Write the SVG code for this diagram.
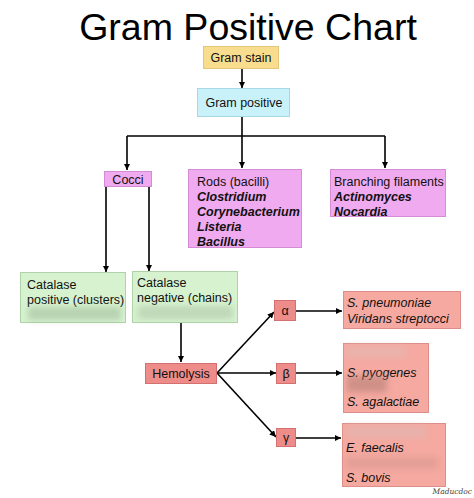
<svg xmlns="http://www.w3.org/2000/svg" width="474" height="498" viewBox="0 0 474 498">
<defs>
<style>
text{font-family:"Liberation Sans",Arial,sans-serif;font-size:12.5px;fill:#111}
.title{font-size:37.5px;fill:#000}
.bi{font-style:italic;font-weight:bold}
.it{font-style:italic}
.c{text-anchor:middle}
.ln{stroke:#000;stroke-width:1.6;fill:none}
.yel{fill:#F9DD8F;stroke:#E3C679}
.cyan{fill:#C9F1FA;stroke:#A6D8E6}
.vio{fill:#F0AAF0;stroke:#D48CD4}
.grn{fill:#D6F2CF;stroke:#AFD2A8}
.red{fill:#EE8C8A;stroke:#D57070}
.sal{fill:#F5A9A0;stroke:#DC8F88}
.wm{font-family:"DejaVu Serif",serif;font-style:italic;font-size:7.5px;fill:#444;text-anchor:end}
</style>
<marker id="ah" viewBox="0 0 10 10" refX="10" refY="5" markerWidth="4" markerHeight="4" orient="auto" markerUnits="strokeWidth">
<path d="M0,0 L10,5 L0,10 z" fill="#000"/>
</marker>
<filter id="blur" x="-20%" y="-50%" width="140%" height="200%"><feGaussianBlur stdDeviation="3"/></filter>
</defs>
<rect width="474" height="498" fill="#fff"/>
<text class="title c" x="248" y="40">Gram Positive Chart</text>

<g id="connectors">
<line class="ln" x1="242" y1="69" x2="242" y2="88" marker-end="url(#ah)"/>
<line class="ln" x1="242" y1="117" x2="242" y2="136"/>
<line class="ln" x1="127" y1="136" x2="385" y2="136"/>
<line class="ln" x1="127" y1="136" x2="127" y2="170" marker-end="url(#ah)"/>
<line class="ln" x1="242" y1="136" x2="242" y2="168" marker-end="url(#ah)"/>
<line class="ln" x1="385" y1="136" x2="385" y2="168" marker-end="url(#ah)"/>
<line class="ln" x1="106" y1="187" x2="106" y2="272" marker-end="url(#ah)"/>
<line class="ln" x1="149" y1="187" x2="149" y2="271" marker-end="url(#ah)"/>
<line class="ln" x1="181" y1="323" x2="181" y2="362" marker-end="url(#ah)"/>
<line class="ln" x1="217" y1="373" x2="274" y2="312" marker-end="url(#ah)"/>
<line class="ln" x1="217" y1="373" x2="276" y2="373" marker-end="url(#ah)"/>
<line class="ln" x1="217" y1="373" x2="276" y2="437" marker-end="url(#ah)"/>
<line class="ln" x1="296" y1="311" x2="342" y2="311" marker-end="url(#ah)"/>
<line class="ln" x1="296" y1="373" x2="342" y2="373" marker-end="url(#ah)"/>
<line class="ln" x1="296" y1="438" x2="341" y2="438" marker-end="url(#ah)"/>
</g>

<g id="gram-stain">
<rect class="yel" x="203.5" y="46.5" width="75" height="22"/>
<text class="c" x="241" y="62">Gram stain</text>
</g>
<g id="gram-positive">
<rect class="cyan" x="197.5" y="88.5" width="92" height="28"/>
<text class="c" x="244" y="107">Gram positive</text>
</g>
<g id="cocci">
<rect class="vio" x="104.5" y="171.5" width="47" height="15"/>
<text class="c" x="128" y="184">Cocci</text>
</g>
<g id="rods">
<rect class="vio" x="188.5" y="169.5" width="113" height="78"/>
<text x="197" y="186">Rods (bacilli)</text>
<text class="bi" x="197" y="201">Clostridium</text>
<text class="bi" x="197" y="216">Corynebacterium</text>
<text class="bi" x="197" y="231">Listeria</text>
<text class="bi" x="197" y="246">Bacillus</text>
</g>
<g id="branching">
<rect class="vio" x="330.5" y="169.5" width="115" height="47"/>
<text x="334" y="186">Branching filaments</text>
<text class="bi" x="334" y="201">Actinomyces</text>
<text class="bi" x="334" y="216">Nocardia</text>
</g>
<g id="catalase-positive">
<rect class="grn" x="20.5" y="272.5" width="105" height="50"/>
<text x="27" y="289">Catalase</text>
<text x="27" y="304">positive (clusters)</text>
<rect x="28" y="307" width="93" height="13" fill="#9DB898" opacity="0.55" filter="url(#blur)"/>
</g>
<g id="catalase-negative">
<rect class="grn" x="132.5" y="271.5" width="105" height="51"/>
<text x="137" y="287">Catalase</text>
<text x="137" y="302">negative (chains)</text>
<rect x="138" y="306" width="95" height="13" fill="#A8C0A2" opacity="0.5" filter="url(#blur)"/>
</g>
<g id="hemolysis">
<rect class="red" x="145.5" y="363.5" width="71" height="20"/>
<text class="c" x="181" y="378">Hemolysis</text>
</g>
<g id="alpha">
<rect class="red" x="274.5" y="300.5" width="21" height="20"/>
<text class="c" x="285" y="315">α</text>
</g>
<g id="beta">
<rect class="red" x="276.5" y="363.5" width="19" height="20"/>
<text class="c" x="286" y="378">β</text>
</g>
<g id="gamma">
<rect class="red" x="276.5" y="428.5" width="19" height="18"/>
<text class="c" x="286" y="442">γ</text>
</g>
<g id="alpha-species">
<rect class="sal" x="343.5" y="291.5" width="117" height="37"/>
<text class="it" x="347" y="307">S. pneumoniae</text>
<text class="it" x="347" y="323">Viridans streptocci</text>
</g>
<g id="beta-species">
<rect class="sal" x="343.5" y="343.5" width="85" height="69"/>
<rect x="347" y="346" width="58" height="12" fill="#E4B8B2" opacity="0.7" filter="url(#blur)"/>
<text class="it" x="347" y="377">S. pyogenes</text>
<rect x="347" y="376" width="40" height="16" fill="#B58078" opacity="0.6" filter="url(#blur)"/>
<text class="it" x="347" y="406">S. agalactiae</text>
</g>
<g id="gamma-species">
<rect class="sal" x="342.5" y="423.5" width="103" height="63"/>
<rect x="346" y="426" width="80" height="12" fill="#E2B6B0" opacity="0.7" filter="url(#blur)"/>
<text class="it" x="346" y="452">E. faecalis</text>
<rect x="346" y="457" width="92" height="12" fill="#D89890" opacity="0.6" filter="url(#blur)"/>
<text class="it" x="346" y="482">S. bovis</text>
</g>
<text class="wm" x="472" y="494">Maducdoc</text>
</svg>
